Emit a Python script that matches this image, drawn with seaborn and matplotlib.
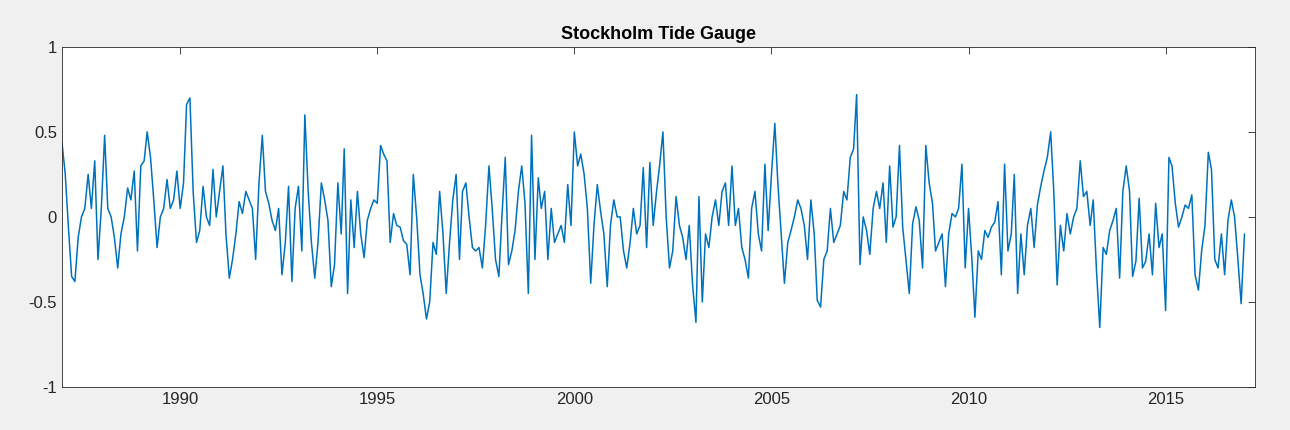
import pandas as pd
import matplotlib
matplotlib.use("Agg")
import matplotlib.pyplot as plt
import matplotlib.dates as mdates
import seaborn as sns

# Monthly sea level (m), Jan 1987 onwards
start_month = "1987-01-01"
level = [
    0.44, 0.25, -0.05, -0.35, -0.38, -0.12, 0.0, 0.05, 0.25, 0.05, 0.33, -0.25,
    0.05, 0.48, 0.05, 0.0, -0.12, -0.3, -0.1, 0.0, 0.17, 0.1, 0.27, -0.2,
    0.3, 0.33, 0.5, 0.35, 0.1, -0.18, 0.0, 0.05, 0.22, 0.05, 0.1, 0.27,
    0.05, 0.2, 0.66, 0.7, 0.15, -0.15, -0.08, 0.18, 0.0, -0.05, 0.28, 0.0,
    0.15, 0.3, -0.1, -0.36, -0.25, -0.1, 0.09, 0.02, 0.15, 0.1, 0.05, -0.25,
    0.2, 0.48, 0.15, 0.08, -0.02, -0.08, 0.05, -0.34, -0.15, 0.18, -0.38, 0.05,
    0.18, -0.2, 0.6, 0.15, -0.15, -0.36, -0.15, 0.2, 0.1, -0.02, -0.41, -0.28,
    0.2, -0.1, 0.4, -0.45, 0.1, -0.18, 0.15, -0.1, -0.24, -0.02, 0.05, 0.1,
    0.08, 0.42, 0.37, 0.33, -0.15, 0.02, -0.05, -0.06, -0.14, -0.16, -0.34, 0.25,
    0.0, -0.34, -0.45, -0.6, -0.5, -0.15, -0.22, 0.15, -0.1, -0.45, -0.15, 0.1,
    0.25, -0.25, 0.15, 0.2, 0.0, -0.18, -0.2, -0.18, -0.3, -0.05, 0.3, 0.05,
    -0.25, -0.35, 0.0, 0.35, -0.28, -0.2, -0.08, 0.15, 0.3, 0.08, -0.45, 0.48,
    -0.25, 0.23, 0.05, 0.15, -0.25, 0.05, -0.15, -0.1, -0.05, -0.15, 0.19, -0.05,
    0.5, 0.3, 0.37, 0.25, 0.05, -0.39, -0.05, 0.19, 0.03, -0.1, -0.41, -0.05,
    0.1, 0.0, 0.0, -0.2, -0.3, -0.15, 0.05, -0.1, -0.05, 0.29, -0.18, 0.32,
    -0.05, 0.15, 0.3, 0.5, 0.0, -0.3, -0.2, 0.12, -0.05, -0.12, -0.25, -0.05,
    -0.4, -0.62, 0.12, -0.5, -0.1, -0.18, 0.0, 0.1, -0.05, 0.15, 0.2, -0.05,
    0.3, -0.05, 0.05, -0.18, -0.25, -0.36, 0.05, 0.15, -0.1, -0.2, 0.31, -0.08,
    0.25, 0.55, 0.2, -0.1, -0.39, -0.15, -0.08, 0.0, 0.1, 0.05, -0.05, -0.25,
    0.1, -0.1, -0.49, -0.53, -0.25, -0.2, 0.05, -0.15, -0.1, -0.05, 0.15, 0.1,
    0.35, 0.4, 0.72, -0.28, 0.0, -0.08, -0.22, 0.05, 0.15, 0.05, 0.2, -0.15,
    0.3, -0.06, 0.0, 0.42, -0.06, -0.26, -0.45, -0.04, 0.06, -0.02, -0.3, 0.42,
    0.2, 0.08, -0.2, -0.15, -0.1, -0.41, -0.1, 0.02, 0.0, 0.05, 0.31, -0.3,
    0.05, -0.25, -0.59, -0.2, -0.25, -0.08, -0.12, -0.06, -0.03, 0.09, -0.34, 0.31,
    -0.2, -0.1, 0.25, -0.45, -0.1, -0.34, -0.05, 0.05, -0.18, 0.07, 0.18, 0.27,
    0.35, 0.5, 0.15, -0.4, -0.05, -0.2, 0.02, -0.1, 0.0, 0.05, 0.33, 0.12,
    0.15, -0.05, 0.1, -0.32, -0.65, -0.18, -0.22, -0.08, -0.02, 0.05, -0.36, 0.15,
    0.3, 0.15, -0.35, -0.26, 0.11, -0.3, -0.26, -0.1, -0.34, 0.08, -0.18, -0.1,
    -0.55, 0.35, 0.3, 0.08, -0.06, 0.0, 0.07, 0.05, 0.13, -0.34, -0.43, -0.2,
    -0.05, 0.38, 0.28, -0.25, -0.3, -0.1, -0.34, -0.02, 0.1, 0.0, -0.25, -0.51,
    -0.1,
]
year_ticks = [1990, 1995, 2000, 2005, 2010, 2015]
y_ticks = [-1, -0.5, 0, 0.5, 1]

df = pd.DataFrame({
    "date": pd.date_range(start_month, periods=len(level), freq="MS"),
    "level": level,
})

sns.set_style("white")
plt.rcParams["font.family"] = ["Liberation Sans", "DejaVu Sans"]

fig = plt.figure(figsize=(12.9, 4.3), dpi=100, facecolor="#f0f0f0")
ax = fig.add_axes([0.048, 0.1, 0.925, 0.791])
ax.set_facecolor("white")

sns.lineplot(data=df, x="date", y="level", color="#0072bd", linewidth=1.1, ax=ax)

ax.set_xlim(pd.Timestamp("1987-01-01"), pd.Timestamp("2017-04-10"))
ax.set_ylim(-1, 1)
ax.set_xticks([pd.Timestamp(f"{y}-01-01") for y in year_ticks])
ax.xaxis.set_major_formatter(mdates.DateFormatter("%Y"))
ax.set_yticks(y_ticks)
ax.set_yticklabels(["-1", "-0.5", "0", "0.5", "1"])
ax.set_xlabel("")
ax.set_ylabel("")

for s in ax.spines.values():
    s.set_color("#262626")
    s.set_linewidth(0.6)
ax.tick_params(direction="in", length=5, width=0.6, color="#262626",
               labelsize=12, labelcolor="#262626", top=True, right=True)
ax.set_title("Stockholm Tide Gauge", fontsize=13, fontweight="bold", color="black", pad=6)

fig.savefig("out.png", dpi=100, facecolor=fig.get_facecolor())
